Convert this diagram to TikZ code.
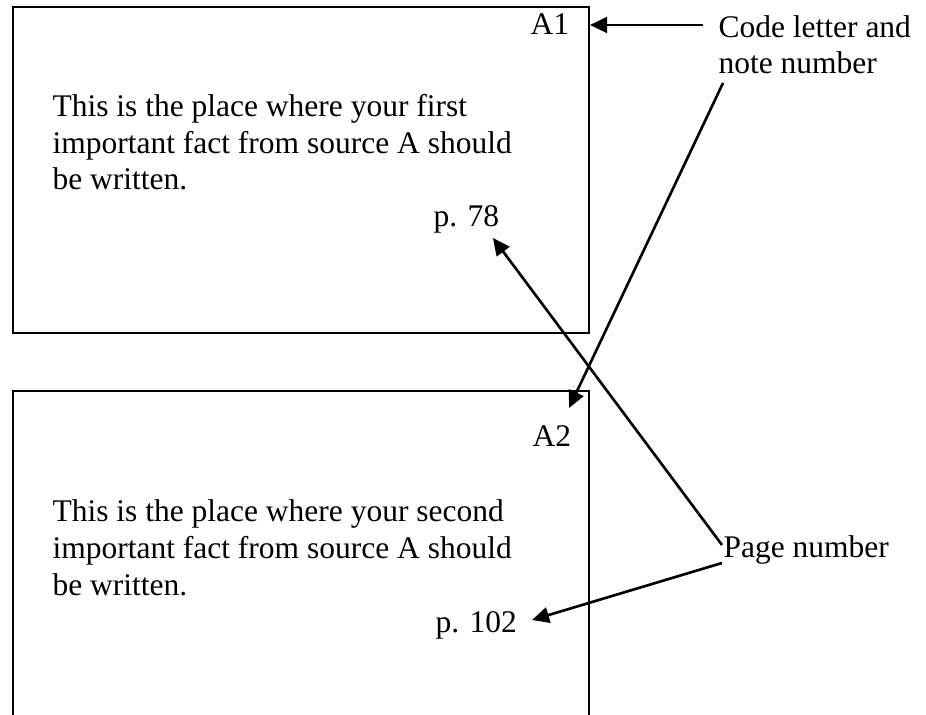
\documentclass[tikz,border=0pt]{standalone}
\usepackage{fontspec}
\setmainfont{Liberation Serif}
\usetikzlibrary{arrows.meta}

\begin{document}
\begin{tikzpicture}[x=0.381pt,y=-0.381pt,
  card/.style={draw,line width=0.8pt,minimum width=219.4pt,minimum height=124.2pt,inner sep=0pt,anchor=north west},
  txt/.style={anchor=base west,inner sep=0pt,align=left,font=\fontsize{12}{14}\selectfont},
  pointer/.style={-{Triangle[length=6.5pt,width=6pt]},line width=1pt}]
\useasboundingbox (0,0) rectangle (926,715);
\clip (0,0) rectangle (926,715);
% the two note cards
\node[card] (card1) at (12,6) {};
\node[card,minimum height=128pt] (card2) at (12,390) {};
% card texts (base = last line)
\node[txt] (a1) at (530,35) {A1};
\node[txt] (fact1) at (52,190) {This is the place where your first\\important fact from source A should\\be written.};
\node[txt] (pg1) at (433,227) {p. 78};
\node[txt] (a2) at (532,447) {A2};
\node[txt] (fact2) at (52,595) {This is the place where your second\\important fact from source A should\\be written.};
\node[txt] (pg2) at (435,632) {p. 102};
% labels on the right
\node[txt] (code) at (718,74) {Code letter and\\note number};
\node[txt] (pagenum) at (723,557) {Page number};
% arrow tips
\coordinate (tip1) at (590,25);
\coordinate (tip2) at (569,408);
\coordinate (tip3) at (493,238);
\coordinate (tip4) at (532,620);
\draw[pointer] ([shift={(-15,-49)}]code.base west) -- (tip1);
\draw[pointer] ([shift={(5,9)}]code.base west) -- (tip2);
\draw[pointer] ([shift={(-1,-12)}]pagenum.base west) -- (tip3);
\draw[pointer] ([shift={(-1,6)}]pagenum.base west) -- (tip4);
\end{tikzpicture}
\end{document}
